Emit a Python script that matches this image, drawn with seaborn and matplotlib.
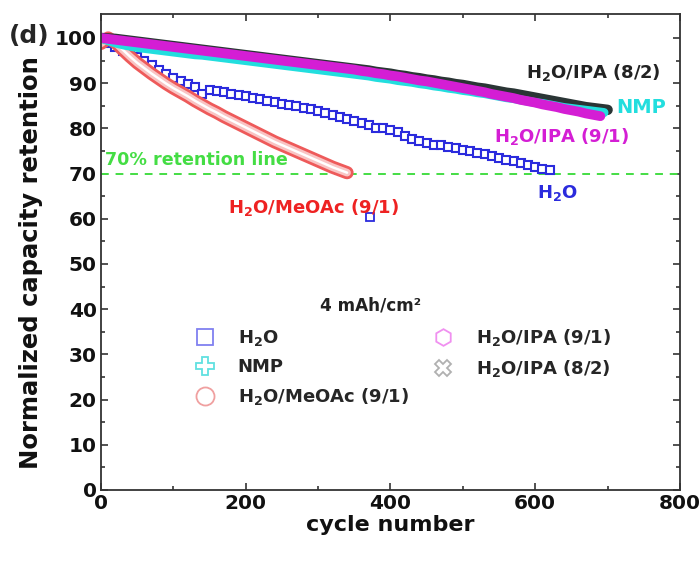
import numpy as np
import pandas as pd
import matplotlib
matplotlib.use("Agg")
import matplotlib.pyplot as plt
from matplotlib.lines import Line2D
import seaborn as sns

# ---------------- data ----------------
h2o_cycles = list(range(0, 630, 10))
h2o_values = [100, 99.0, 98.0, 97.2, 96.4, 95.7, 95.0, 94.0, 93.0, 92.0,
              91.1, 90.4, 89.8, 89.2, 87.6, 88.4, 88.3, 88.0, 87.7, 87.4,
              87.1, 86.8, 86.4, 86.1, 85.8, 85.5, 85.2, 84.9, 84.6, 84.2,
              83.9, 83.4, 83.0, 82.5, 82.1, 81.7, 81.2, 80.7, 80.1, 80.0,
              79.6, 79.1, 78.4, 77.7, 77.1, 76.7, 76.4, 76.3, 75.9, 75.6,
              75.3, 74.9, 74.6, 74.3, 73.8, 73.5, 73.1, 72.7, 72.3, 71.9,
              71.5, 71.1, 70.7]
h2o_outlier_cycle = [372]
h2o_outlier_value = [60.4]

nmp_cycles = list(range(0, 700, 10)) + [695]
nmp_values = [100, 99.4, 98.9, 98.5, 98.2, 97.9, 97.7, 97.5, 97.3, 97.1,
              96.9, 96.7, 96.5, 96.3, 96.2, 96.0, 95.8, 95.6, 95.4, 95.2,
              95.0, 94.8, 94.6, 94.4, 94.2, 94.0, 93.8, 93.6, 93.4, 93.2,
              93.0, 92.8, 92.6, 92.4, 92.2, 92.0, 91.8, 91.6, 91.3, 91.1,
              90.9, 90.6, 90.4, 90.2, 89.9, 89.7, 89.4, 89.2, 88.9, 88.7,
              88.4, 88.2, 87.9, 87.7, 87.4, 87.1, 86.8, 86.6, 86.3, 86.0,
              85.7, 85.5, 85.2, 84.9, 84.6, 84.4, 84.2, 84.0, 83.8, 83.6,
              83.5]

meoac_cycles = list(range(0, 350, 10))
meoac_values = [98.8, 100.0, 99.0, 97.4, 95.9, 94.5, 93.3, 92.1, 91.0, 89.9,
                88.9, 88.0, 87.1, 86.1, 85.2, 84.3, 83.5, 82.6, 81.8, 81.0,
                80.2, 79.4, 78.6, 77.8, 77.0, 76.3, 75.6, 74.9, 74.2, 73.5,
                72.8, 72.1, 71.4, 70.8, 70.2]

ipa91_cycles = list(range(0, 700, 10))
ipa91_values = [100, 99.8, 99.6, 99.4, 99.2, 99.0, 98.8, 98.6, 98.4, 98.2,
                98.0, 97.8, 97.6, 97.4, 97.2, 97.0, 96.8, 96.6, 96.4, 96.2,
                96.0, 95.8, 95.6, 95.4, 95.2, 95.0, 94.8, 94.6, 94.4, 94.2,
                94.0, 93.8, 93.6, 93.4, 93.2, 93.0, 92.7, 92.5, 92.2, 92.0,
                91.7, 91.5, 91.2, 90.9, 90.6, 90.4, 90.1, 89.8, 89.5, 89.2,
                88.9, 88.6, 88.3, 88.0, 87.6, 87.3, 87.0, 86.7, 86.3, 86.0,
                85.7, 85.3, 85.0, 84.7, 84.3, 84.0, 83.7, 83.3, 83.0, 82.7]

ipa82_cycles = list(range(0, 710, 10))
ipa82_values = [100, 99.9, 99.8, 99.6, 99.4, 99.2, 99.0, 98.8, 98.6, 98.4,
                98.2, 98.0, 97.8, 97.6, 97.4, 97.2, 97.0, 96.8, 96.6, 96.4,
                96.2, 96.0, 95.8, 95.6, 95.4, 95.2, 95.0, 94.8, 94.6, 94.4,
                94.2, 94.0, 93.8, 93.6, 93.4, 93.2, 93.0, 92.8, 92.5, 92.3,
                92.1, 91.8, 91.6, 91.3, 91.1, 90.8, 90.6, 90.3, 90.1, 89.8,
                89.6, 89.3, 89.0, 88.8, 88.5, 88.2, 87.9, 87.7, 87.4, 87.1,
                86.8, 86.5, 86.2, 85.9, 85.6, 85.3, 85.0, 84.7, 84.5, 84.3,
                84.1]

series_labels = ["H$_2$O", "NMP", "H$_2$O/MeOAc (9/1)", "H$_2$O/IPA (9/1)", "H$_2$O/IPA (8/2)"]
retention_level = 70
x_ticks = [0, 200, 400, 600, 800]
y_ticks = [0, 10, 20, 30, 40, 50, 60, 70, 80, 90, 100]

# ---------------- style ----------------
sns.set_theme(style="ticks")
plt.rcParams["font.family"] = ["DejaVu Sans"]
plt.rcParams["font.weight"] = "bold"
plt.rcParams["mathtext.fontset"] = "custom"
plt.rcParams["mathtext.rm"] = "DejaVu Sans:bold"
plt.rcParams["mathtext.default"] = "rm"

C_BLUE = "#2b2bdd"
C_CYAN = "#22dede"
C_RED_EDGE = "#ee5a5a"
C_RED_FILL = "#f9c4c4"
C_RED_TXT = "#ee2222"
C_MAG = "#d41ed4"
C_BLK = "#2a3535"
C_GRN = "#44dd44"

fig = plt.figure(figsize=(7.0, 5.61), dpi=100)
ax = fig.add_axes([0.1443, 0.1266, 0.8271, 0.8484])


def draw(cycles, values, color, lw, marker=None, ms=0, mew=0, face="white", ls="-"):
    df = pd.DataFrame({"cycle": cycles, "value": values})
    kw = {}
    if marker is not None:
        kw = dict(marker=marker, markersize=ms, markerfacecolor=face,
                  markeredgecolor=color, markeredgewidth=mew)
    sns.lineplot(data=df, x="cycle", y="value", ax=ax, sort=False,
                 color=color, lw=lw, linestyle=ls, legend=False,
                 solid_capstyle="round", **kw)


# H2O: chain of open squares
draw(h2o_cycles, h2o_values, C_BLUE, 2.4, "s", 6, 1.5)
draw(h2o_outlier_cycle, h2o_outlier_value, C_BLUE, 0, "s", 6, 1.3, ls="none")
# MeOAc: pink tube of overlapping open circles
draw(meoac_cycles, meoac_values, C_RED_EDGE, 9.5)
draw(meoac_cycles, meoac_values, C_RED_FILL, 5.5)
draw(meoac_cycles, meoac_values, "white", 1.8)
# dense bands
draw(ipa82_cycles, ipa82_values, C_BLK, 7.5)
draw(nmp_cycles, nmp_values, C_CYAN, 6.5)
draw(ipa91_cycles, ipa91_values, C_MAG, 7.0)

ax.axhline(retention_level, color=C_GRN, linestyle=(0, (4, 3.5)), lw=1.4, zorder=1)

ax.set_xlim(0, 800)
ax.set_ylim(0, 105.3)
ax.set_xticks(x_ticks)
ax.set_yticks(y_ticks)
ax.set_xticks(range(100, 800, 200), minor=True)
ax.set_yticks(range(5, 105, 10), minor=True)
ax.tick_params(axis="both", which="both", direction="in", top=True, right=True,
               labelsize=14.5, width=1.2, colors="#333333", labelcolor="#111111")
ax.tick_params(which="major", length=5, pad=3)
ax.tick_params(which="minor", length=3)
for lab in ax.get_xticklabels() + ax.get_yticklabels():
    lab.set_fontweight("bold")
for s in ax.spines.values():
    s.set_linewidth(1.3)
    s.set_color("#333333")

ax.set_xlabel("cycle number", fontsize=16, fontweight="bold", labelpad=1, color="#111111")
ax.set_ylabel("Normalized capacity retention", fontsize=17.5, fontweight="bold",
              color="#111111")
ax.yaxis.set_label_coords(-0.100, 0.478)

# annotations
ax.text(680, 92.3, "H$_2$O/IPA (8/2)", color="#222222", fontsize=13, ha="center", va="center")
ax.text(746, 84.7, "NMP", color=C_CYAN, fontsize=14, ha="center", va="center")
ax.text(637, 78.1, "H$_2$O/IPA (9/1)", color=C_MAG, fontsize=13, ha="center", va="center")
ax.text(630, 65.7, "H$_2$O", color=C_BLUE, fontsize=13, ha="center", va="center")
ax.text(294, 62.4, "H$_2$O/MeOAc (9/1)", color=C_RED_TXT, fontsize=13, ha="center", va="center")
ax.text(5.5, 73.0, "70% retention line", color=C_GRN, fontsize=12.6, ha="left", va="center")
ax.text(372, 40.9, "4 mAh/cm²", color="#222222", fontsize=12.2, ha="center", va="center")
fig.text(29 / 700, 1 - 36 / 561, "(d)", fontsize=18, fontweight="bold", ha="center", va="center")

# legend
handles = [
    Line2D([], [], ls="none", marker="s", ms=12, mfc="white", mec="#8080f0", mew=1.3),
    Line2D([], [], ls="none", marker="P", ms=13, mfc="white", mec="#60e0e0", mew=1.3),
    Line2D([], [], ls="none", marker="o", ms=13, mfc="white", mec="#f0a0a0", mew=1.3),
    Line2D([], [], ls="none", marker="h", ms=12, mfc="white", mec="#f090f0", mew=1.3),
    Line2D([], [], ls="none", marker="X", ms=12, mfc="white", mec="#b0b0b0", mew=1.3),
]
ax.legend(handles, series_labels, ncol=2, loc="upper left",
          bbox_to_anchor=(0.161, 0.342), frameon=False,
          handlelength=1.2, handletextpad=1.2, columnspacing=1.3,
          labelspacing=0.55, borderaxespad=0, borderpad=0,
          prop={"weight": "bold", "size": 13, "family": "DejaVu Sans"})

fig.savefig("out.png", dpi=100)
